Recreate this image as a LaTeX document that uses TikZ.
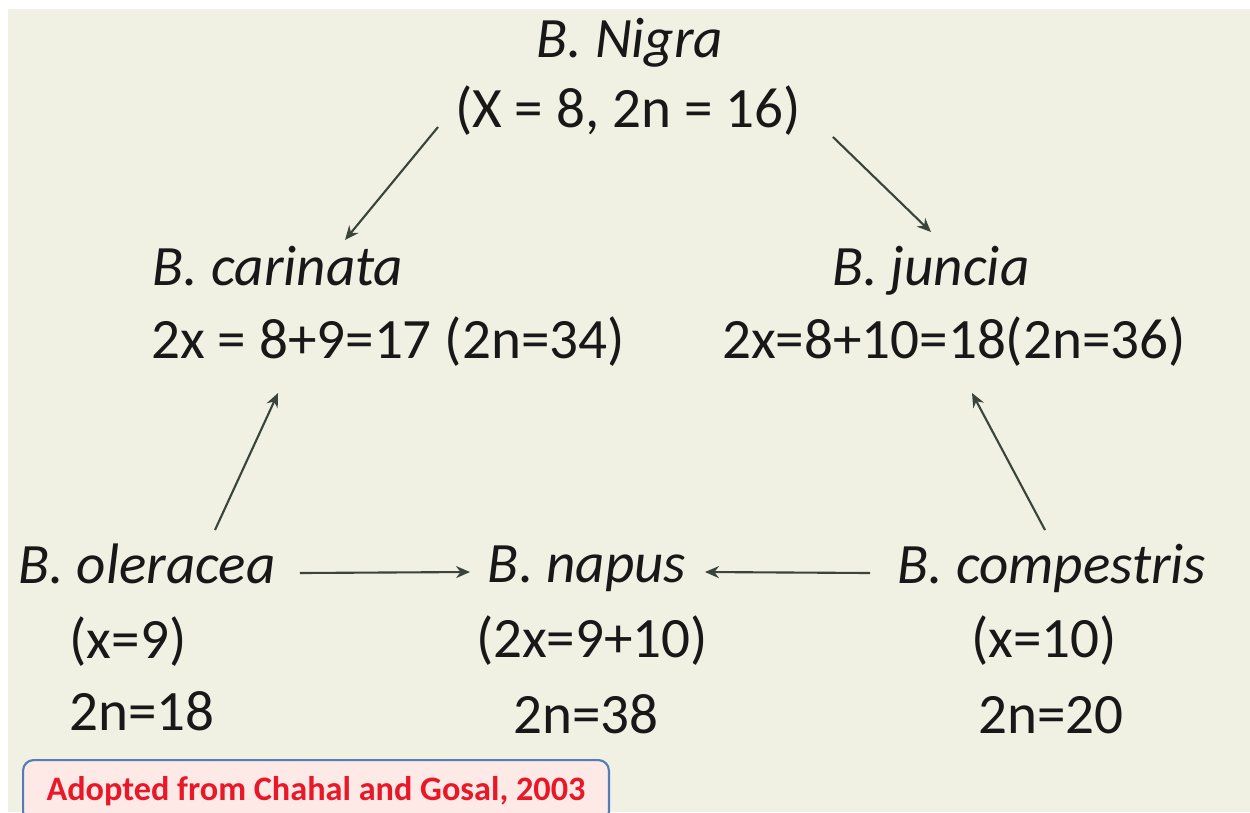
\documentclass[tikz,border=0pt]{standalone}
\usepackage{fontspec}
\setmainfont{Carlito}
\usetikzlibrary{arrows.meta}
\definecolor{paper}{RGB}{240,240,227}
\definecolor{ink}{RGB}{24,24,24}
\definecolor{arrowgray}{RGB}{58,68,58}
\definecolor{notefill}{RGB}{253,233,230}
\definecolor{noteedge}{RGB}{84,124,184}
\definecolor{notered}{RGB}{232,24,40}

\begin{document}
\begin{tikzpicture}[x=0.02cm, y=-0.02cm, every node/.style={font=\fontsize{32.5}{38}\selectfont, text=ink, inner sep=0pt, anchor=base}]
  \tikzset{species/.style={font=\fontsize{32.5}{38}\selectfont\itshape}, arr/.style={-{Stealth[length=2.8mm, width=2.4mm]}, draw=arrowgray, line width=1.2pt}}
  \useasboundingbox (0,0) rectangle (1250,812);
  \fill[paper] (8,9) rectangle (1250,812);
  % parents and hybrids
  \node[species] (nigra) at (630,57) {B. Nigra};
  \node (nigrax) at (628,127) {(X = 8, 2n = 16)};
  \node[species] (carinata) at (278,285) {B. carinata};
  \node (carinatax) at (388,358) {2x = 8+9=17 (2n=34)};
  \node[species] (juncia) at (931,285) {B. juncia};
  \node (junciax) at (954,358) {2x=8+10=18(2n=36)};
  \node[species] (oleracea) at (147,583) {B. oleracea};
  \node (oleraceax) at (128,658) {(x=9)};
  \node (oleraceay) at (142,730) {2n=18};
  \node[species] (napus) at (587,582) {B. napus};
  \node (napusx) at (592,657) {(2x=9+10)};
  \node (napusy) at (586,733) {2n=38};
  \node[species] (compestris) at (1052,583) {B. compestris};
  \node (compestrisx) at (1044,657) {(x=10)};
  \node (compestrisy) at (1051,733) {2n=20};
  \node[draw=noteedge, fill=notefill, rounded corners=6pt, line width=1.2pt, text=notered, font=\fontsize{19.5}{23}\selectfont\bfseries, minimum width=11.72cm, minimum height=1.24cm, anchor=north west] (source) at (22,759) {Adopted from Chahal and Gosal, 2003};
  % crosses
  \draw[arr] ([xshift=-3.8cm]nigrax.base) -- ([xshift=1.34cm, yshift=0.9cm]carinata.base);
  \draw[arr] ([xshift=4.1cm, yshift=-0.2cm]nigrax.base) -- ([yshift=1.06cm]juncia.base);
  \draw[arr] ([xshift=1.36cm, yshift=1.06cm]oleracea.base) -- ([xshift=-2.2cm, yshift=-0.7cm]carinatax.base);
  \draw[arr] ([xshift=-0.14cm, yshift=1.06cm]compestris.base) -- ([xshift=0.36cm, yshift=-0.7cm]junciax.base);
  \draw[arr] ([xshift=3.06cm, yshift=0.2cm]oleracea.base) -- ([xshift=-2.34cm, yshift=0.2cm]napus.base);
  \draw[arr] ([xshift=-3.64cm, yshift=0.2cm]compestris.base) -- ([xshift=2.36cm, yshift=0.2cm]napus.base);
\end{tikzpicture}
\end{document}
